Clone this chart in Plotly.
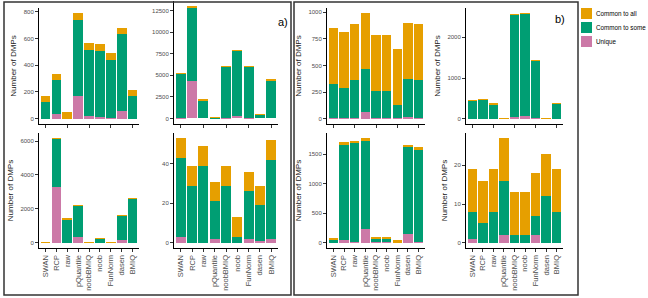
import plotly.graph_objects as go

categories = ["SWAN", "RCP", "raw", "pQuantile", "noobBMIQ", "noob", "FunNorm", "dasen", "BMIQ"]

# ---- panel a) ----
a_tl_unique = [0, 37, 0, 167, 22, 15, 5, 55, 0]
a_tl_some = [122, 249, 0, 573, 494, 493, 436, 578, 170]
a_tl_all = [48, 48, 48, 48, 48, 48, 48, 48, 48]

a_tr_unique = [50, 4300, 0, 0, 60, 300, 30, 0, 0]
a_tr_some = [5100, 8600, 2100, 80, 5950, 7550, 5980, 420, 4420]
a_tr_all = [50, 50, 50, 50, 50, 50, 50, 50, 50]

a_bl_unique = [0, 3300, 0, 350, 0, 0, 0, 150, 0]
a_bl_some = [15, 2850, 1400, 1850, 15, 260, 5, 1450, 2600]
a_bl_all = [15, 15, 15, 15, 15, 15, 15, 15, 15]

a_br_unique = [3, 0, 0, 2, 0, 0, 2, 1, 2]
a_br_some = [40, 29, 39, 19, 29, 3, 24, 18, 40]
a_br_all = [10, 10, 10, 10, 10, 10, 10, 10, 10]

# ---- panel b) ----
b_tl_unique = [10, 5, 5, 67, 5, 5, 3, 15, 5]
b_tl_some = [314, 283, 357, 399, 259, 259, 130, 359, 360]
b_tl_all = [524, 524, 524, 524, 524, 524, 524, 524, 524]

b_tr_unique = [0, 0, 0, 0, 50, 65, 30, 0, 0]
b_tr_some = [445, 470, 360, 12, 2500, 2520, 1390, 10, 365]
b_tr_all = [5, 5, 5, 5, 5, 5, 5, 5, 5]

b_bl_unique = [10, 40, 10, 230, 5, 5, 0, 145, 5]
b_bl_some = [30, 1620, 1680, 1500, 60, 60, 0, 1475, 1570]
b_bl_all = [40, 40, 40, 40, 40, 40, 40, 40, 40]

b_br_unique = [1, 0, 0, 2, 0, 0, 2, 0, 0]
b_br_some = [7, 5, 8, 14, 2, 2, 5, 12, 8]
b_br_all = [11, 11, 11, 11, 11, 11, 11, 11, 11]

# tick labels
a_tl_ticks = [0, 200, 400, 600, 800]
a_tr_ticks = [0, 2500, 5000, 7500, 10000, 12500]
a_bl_ticks = [0, 2000, 4000, 6000]
a_br_ticks = [0, 20, 40]
b_tl_ticks = [0, 250, 500, 750, 1000]
b_tr_ticks = [0, 1000, 2000]
b_bl_ticks = [0, 500, 1000, 1500]
b_br_ticks = [0, 10, 20]

series_names = ["Unique", "Common to some", "Common to all"]
series_colors = ["#CC79A7", "#009E73", "#E69F00"]

W, H = 648, 298

# (series, ticks, x box px, y box px, show x labels, show y title)
panels = [
    ((a_tl_unique, a_tl_some, a_tl_all), a_tl_ticks, (39, 139), (8, 124), False, True),
    ((a_tr_unique, a_tr_some, a_tr_all), a_tr_ticks, (174, 278), (1, 124), False, False),
    ((a_bl_unique, a_bl_some, a_bl_all), a_bl_ticks, (39, 139), (133, 248), True, True),
    ((a_br_unique, a_br_some, a_br_all), a_br_ticks, (174, 278), (133, 248), True, False),
    ((b_tl_unique, b_tl_some, b_tl_all), b_tl_ticks, (327, 425), (8, 124), False, True),
    ((b_tr_unique, b_tr_some, b_tr_all), b_tr_ticks, (466, 563), (8, 124), False, True),
    ((b_bl_unique, b_bl_some, b_bl_all), b_bl_ticks, (327, 425), (133, 248), True, True),
    ((b_br_unique, b_br_some, b_br_all), b_br_ticks, (466, 563), (133, 248), True, True),
]

FONT = "Liberation Sans"
fig = go.Figure()
layout = dict(
    width=W, height=H, margin=dict(l=0, r=0, t=0, b=0),
    paper_bgcolor="white", plot_bgcolor="white",
    barmode="stack", showlegend=False, bargap=0.1,
    font=dict(family=FONT, color="#4D4D4D"),
)

for i, (series, ticks, xb, yb, showx, ytitle) in enumerate(panels, start=1):
    sfx = "" if i == 1 else str(i)
    totals = [sum(v) for v in zip(*series)]
    m = max(totals)
    for name, col, vals in zip(series_names, series_colors, series):
        fig.add_trace(go.Bar(
            x=categories, y=vals, name=name, marker=dict(color=col, line=dict(width=0)),
            width=0.9, xaxis="x" + sfx, yaxis="y" + sfx, showlegend=False,
        ))
    layout["xaxis" + sfx] = dict(
        domain=[xb[0] / W, xb[1] / W], anchor="y" + sfx, type="category",
        range=[-0.6, 8.6], showline=True, linecolor="black", linewidth=1,
        ticks="outside", ticklen=3, tickwidth=0.8, tickcolor="#333333",
        showticklabels=showx, tickangle=-90,
        tickfont=dict(size=7.5, color="#4D4D4D", family=FONT),
        showgrid=False, zeroline=False,
    )
    layout["yaxis" + sfx] = dict(
        domain=[1 - yb[1] / H, 1 - yb[0] / H], anchor="x" + sfx,
        range=[-0.05 * m, 1.05 * m], tickvals=ticks, tickformat="d",
        showline=True, linecolor="black", linewidth=1,
        ticks="outside", ticklen=3, tickwidth=0.8, tickcolor="#333333",
        tickfont=dict(size=6, color="#4D4D4D", family=FONT),
        showgrid=False, zeroline=False,
        title=dict(text="Number of DMPs" if ytitle else "", font=dict(size=8, color="#222222", family=FONT), standoff=5),
    )

fig.update_layout(**layout)

# panel frames
for x0, x1 in [(4, 291), (294, 578)]:
    fig.add_shape(type="rect", xref="paper", yref="paper",
                  x0=x0 / W, x1=x1 / W, y0=1 - 295 / H, y1=1 - 2 / H,
                  line=dict(color="#333333", width=1.5))

fig.add_annotation(text="a)", x=283 / W, y=1 - 14 / H, xref="paper", yref="paper",
                   showarrow=False, font=dict(size=11, color="black", family=FONT))
fig.add_annotation(text="b)", x=567 / W, y=1 - 11 / H, xref="paper", yref="paper",
                   showarrow=False, font=dict(size=11, color="black", family=FONT))

# legend (outside the panels)
legend_items = list(zip(series_names, series_colors))[::-1]
for k, (name, col) in enumerate(legend_items):
    y0 = 8 + 14 * k
    fig.add_shape(type="rect", xref="paper", yref="paper",
                  x0=581 / W, x1=592 / W, y0=1 - (y0 + 11) / H, y1=1 - y0 / H,
                  line=dict(width=0), fillcolor=col)
    fig.add_annotation(text=name, x=594 / W, y=1 - (y0 + 5.5) / H, xref="paper", yref="paper",
                       xanchor="left", yanchor="middle", showarrow=False,
                       font=dict(size=6.3, color="black", family=FONT))

fig.write_html("out.html")
